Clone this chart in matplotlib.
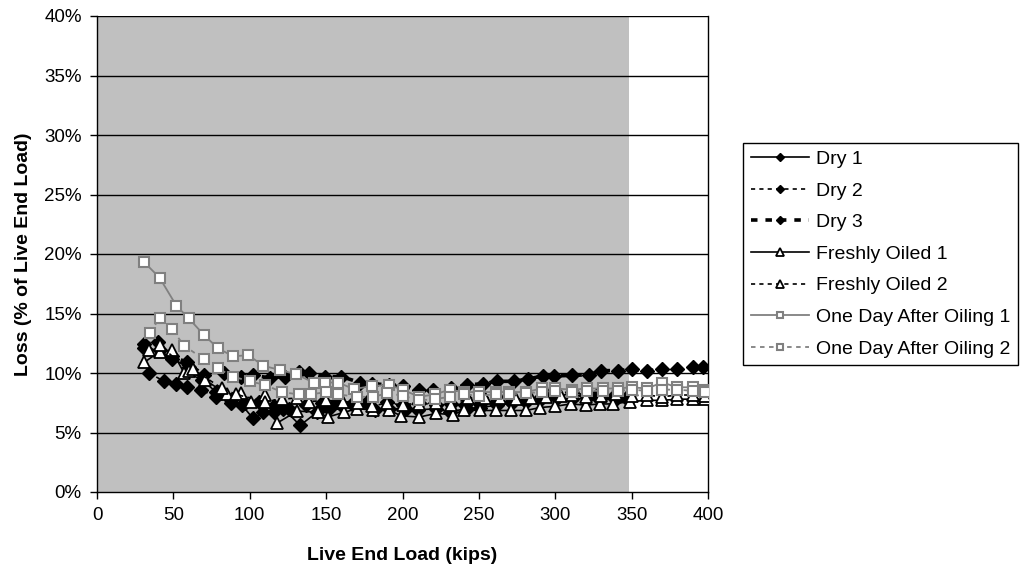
import matplotlib
matplotlib.use("Agg")
import matplotlib.pyplot as plt
from matplotlib.ticker import FuncFormatter

plt.rcParams['font.family'] = ['Liberation Sans', 'DejaVu Sans']

# ---- data (load in kips, loss in % of live end load) ----
dry1_x = [31, 41, 49, 60, 69, 78, 88, 95, 102, 109, 116, 122, 133, 144, 152, 160, 170, 182, 191,
          202, 210, 222, 231, 242, 251, 262, 272, 281, 290, 301, 311, 321, 330, 340, 348]
dry1_y = [12.1, 11.9, 11.2, 10.5, 9.4, 8.4, 7.7, 7.3, 6.2, 6.7, 6.75, 7.0, 5.6, 6.7, 7.0, 7.3, 7.2, 6.9, 7.0,
          7.0, 6.9, 7.0, 6.75, 7.0, 7.1, 7.3, 7.45, 7.6, 7.7, 7.9, 7.8, 7.9, 7.9, 7.8, 7.7]

dry2_x = [34, 44, 52, 59, 68, 78, 88, 97, 106, 116, 126, 137, 147, 157, 167, 177, 190,
          200, 211, 222, 232, 241, 251, 261, 271, 281, 290, 296, 301, 311, 320, 327, 338, 346]
dry2_y = [10.0, 9.3, 9.1, 8.85, 8.6, 7.95, 7.45, 7.5, 7.6, 7.2, 7.0, 7.3, 7.5, 7.6, 7.4, 7.6, 7.6,
          7.3, 7.5, 7.3, 7.4, 7.3, 7.4, 7.6, 7.6, 7.8, 7.9, 8.15, 7.9, 8.4, 8.15, 8.1, 8.0, 7.9]

dry3_x = [31, 40, 49, 59, 70, 83, 94, 102, 113, 123, 132, 139, 149, 160, 172, 180, 191, 200, 211,
          220, 232, 242, 253, 262, 273, 282, 292, 299, 311, 322, 330, 341, 350, 360, 370, 380, 390, 397]
dry3_y = [12.4, 12.6, 11.4, 10.9, 9.8, 10.0, 9.7, 9.8, 9.6, 9.7, 10.1, 10.0, 9.7, 9.7, 9.2, 9.1, 9.0, 8.9, 8.55,
          8.6, 8.7, 9.0, 9.1, 9.3, 9.3, 9.5, 9.75, 9.75, 9.8, 9.85, 10.2, 10.2, 10.3, 10.2, 10.3, 10.3, 10.5, 10.5]

fo1_x = [31, 41, 49, 57, 71, 85, 94, 101, 110, 118, 131, 145, 151, 162, 170, 181, 191, 199, 211,
         222, 233, 240, 251, 261, 271, 281, 290, 300, 310, 320, 329, 338, 349, 360, 370, 380, 390, 398]
fo1_y = [10.9, 11.8, 11.9, 10.0, 9.4, 8.2, 8.3, 7.55, 8.15, 5.8, 6.8, 6.7, 6.3, 6.7, 7.0, 6.9, 6.9, 6.4, 6.3,
         6.6, 6.5, 6.9, 6.85, 6.85, 6.85, 6.85, 7.1, 7.2, 7.4, 7.3, 7.4, 7.4, 7.6, 7.7, 7.7, 7.8, 7.8, 7.8]

fo2_x = [34, 41, 60, 63, 82, 91, 110, 121, 131, 139, 150, 161, 171, 180, 190, 200, 211, 222,
         232, 243, 254, 264, 274, 284, 294, 304, 311, 320, 330, 340, 350, 360, 370, 380, 390, 398]
fo2_y = [11.9, 12.35, 10.2, 10.3, 8.7, 8.2, 7.6, 7.8, 7.9, 7.6, 7.7, 7.6, 7.5, 7.2, 7.5, 7.3, 7.4, 7.5,
         7.3, 7.9, 7.9, 7.9, 7.8, 7.9, 8.0, 8.1, 8.15, 8.0, 8.1, 8.2, 8.1, 8.15, 8.0, 8.15, 8.15, 8.1]

odao1_x = [31, 41, 52, 60, 70, 79, 89, 99, 109, 120, 130, 142, 149, 158, 168, 180, 191, 200, 211,
           221, 231, 240, 250, 261, 270, 281, 291, 300, 311, 321, 331, 341, 350, 360, 370, 380, 390, 398]
odao1_y = [19.3, 18.0, 15.65, 14.6, 13.2, 12.1, 11.4, 11.5, 10.6, 10.25, 9.9, 9.2, 9.2, 9.2, 8.65, 8.9, 9.0, 8.6, 8.0,
           8.2, 8.6, 8.4, 8.4, 8.4, 8.4, 8.4, 8.7, 8.7, 8.6, 8.7, 8.7, 8.7, 8.8, 8.7, 9.2, 8.8, 8.8, 8.6]

odao2_x = [35, 41, 49, 57, 70, 79, 89, 100, 110, 121, 132, 140, 150, 158, 170, 181, 190, 200, 211,
           221, 231, 240, 250, 261, 270, 281, 291, 300, 311, 321, 331, 341, 350, 360, 370, 380, 390, 398]
odao2_y = [13.4, 14.65, 13.7, 12.3, 11.15, 10.4, 9.7, 9.3, 9.0, 8.4, 8.2, 8.2, 8.4, 8.2, 8.0, 8.0, 8.3, 8.1, 7.7,
           7.8, 8.0, 8.2, 8.1, 8.2, 8.2, 8.3, 8.4, 8.5, 8.4, 8.5, 8.5, 8.5, 8.6, 8.5, 8.6, 8.6, 8.5, 8.4]

shade_end = 348
x_ticks = [0, 50, 100, 150, 200, 250, 300, 350, 400]
y_ticks = [0, 5, 10, 15, 20, 25, 30, 35, 40]

# ---- figure ----
fig = plt.figure(figsize=(10.21, 5.70), dpi=100)
ax = fig.add_axes([97/1021, 1-492/570, (708-97)/1021, (492-16)/570])

ax.axvspan(0, shade_end, color='#C0C0C0', zorder=0, lw=0)
for yv in y_ticks[1:]:
    ax.axhline(yv, color='black', lw=1.0, zorder=1)

gray = '#808080'
ax.plot(dry1_x, dry1_y, color='black', lw=1.2, ls='-', marker='D', ms=7,
        mfc='black', mec='black', label='Dry 1', zorder=3)
ax.plot(dry2_x, dry2_y, color='black', lw=1.2, ls=(0, (2.5, 2.5)), marker='D', ms=7,
        mfc='black', mec='black', label='Dry 2', zorder=3)
ax.plot(dry3_x, dry3_y, color='black', lw=2.6, ls=(0, (1.8, 2.2)), marker='D', ms=7,
        mfc='black', mec='black', label='Dry 3', zorder=3)
ax.plot(fo1_x, fo1_y, color='black', lw=1.2, ls='-', marker='^', ms=8.5,
        mfc='white', mec='black', mew=1.3, label='Freshly Oiled 1', zorder=4)
ax.plot(fo2_x, fo2_y, color='black', lw=1.2, ls=(0, (2.5, 2.5)), marker='^', ms=8.5,
        mfc='white', mec='black', mew=1.3, label='Freshly Oiled 2', zorder=4)
ax.plot(odao1_x, odao1_y, color=gray, lw=1.3, ls='-', marker='s', ms=7.5,
        mfc='white', mec=gray, mew=1.5, label='One Day After Oiling 1', zorder=5)
ax.plot(odao2_x, odao2_y, color=gray, lw=1.3, ls=(0, (2.5, 2.5)), marker='s', ms=7.5,
        mfc='white', mec=gray, mew=1.5, label='One Day After Oiling 2', zorder=5)

ax.set_xlim(0, 400)
ax.set_ylim(0, 40)
ax.set_xticks(x_ticks)
ax.set_yticks(y_ticks)
ax.yaxis.set_major_formatter(FuncFormatter(lambda v, p: f"{int(v)}%"))
ax.tick_params(axis='both', direction='out', length=5, width=1, color='black',
               labelsize=13.5, pad=6)
for s in ax.spines.values():
    s.set_color('black')
    s.set_linewidth(1.0)
ax.spines['top'].set_visible(False)

ax.set_xlabel('Live End Load (kips)', fontsize=14, fontweight='bold', labelpad=16)
ax.set_ylabel('Loss (% of Live End Load)', fontsize=14, fontweight='bold', labelpad=9)

leg = fig.legend(loc='center left', bbox_to_anchor=(743/1021, 1-254/570),
                 fontsize=14, frameon=True, fancybox=False, edgecolor='black',
                 framealpha=1, markerscale=0.6, handlelength=3.0, handletextpad=0.35,
                 labelspacing=0.72, borderpad=0.4, borderaxespad=0)
leg.get_frame().set_linewidth(1.0)

fig.savefig('out.png', dpi=100)
